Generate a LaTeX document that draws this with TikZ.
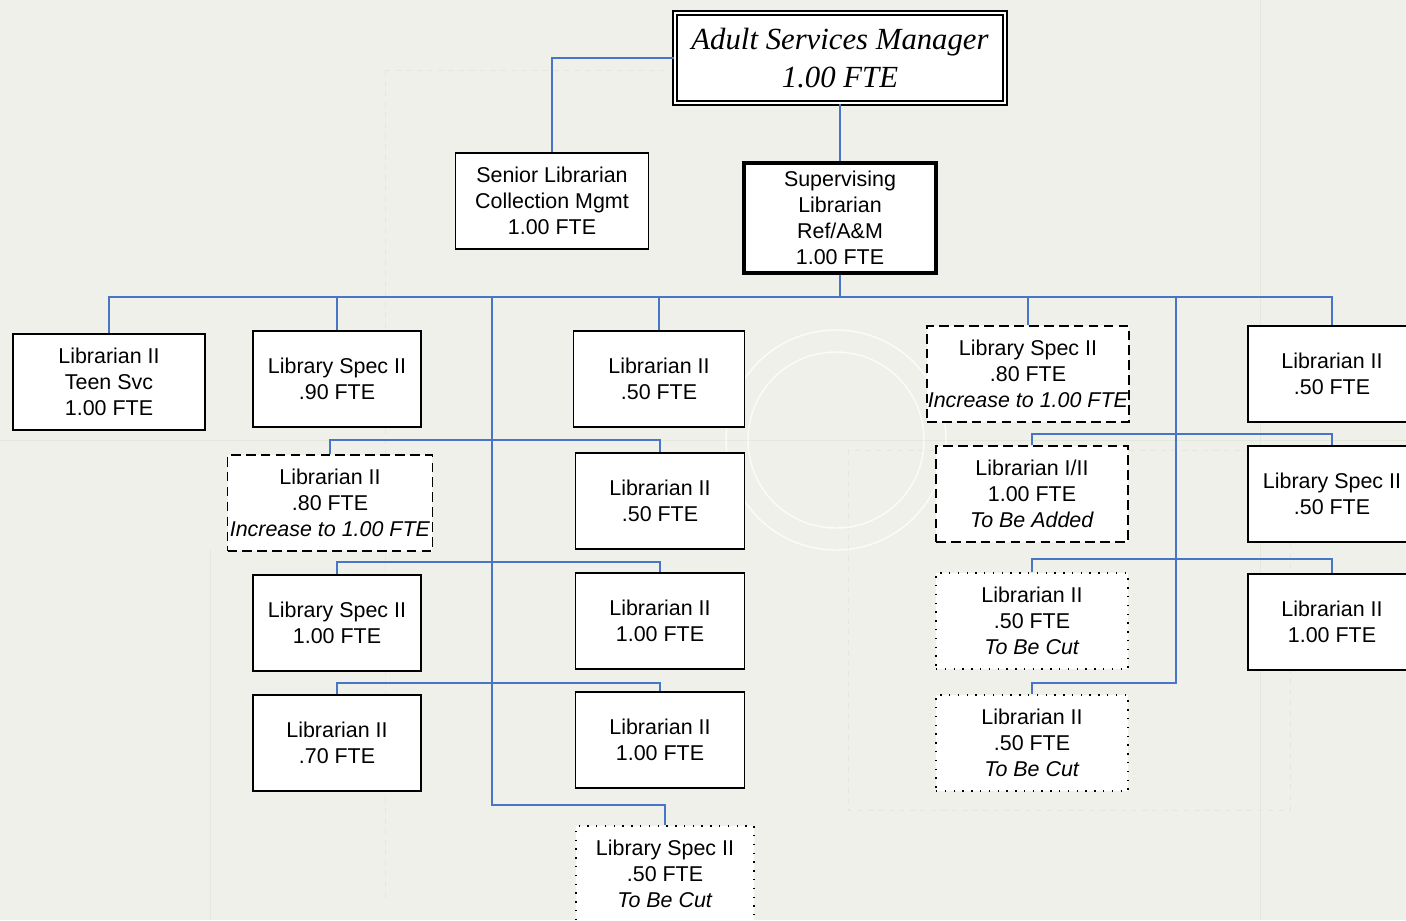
\documentclass[tikz,border=0pt]{standalone}
\usepackage{fontspec}
\setmainfont{Liberation Sans}
\newfontfamily\mgrfont{Liberation Serif}
\usetikzlibrary{positioning}
\definecolor{bgpaper}{RGB}{238,240,233}
\definecolor{bgline}{RGB}{226,232,220}
\definecolor{linkblue}{RGB}{72,118,196}

\begin{document}
\begin{tikzpicture}[x=0.02cm, y=-0.02cm,
  font=\fontsize{12.2}{14.7}\selectfont,
  post/.style={draw, line width=1pt, fill=white, align=center, inner sep=0pt, minimum height=1.92cm},
  planned/.style={post, dash pattern=on 5.5pt off 3pt},
  tobecut/.style={post, line width=0.8pt, dash pattern=on 0.8pt off 4.2pt},
  link/.style={linkblue, line width=1.1pt}]
% Paper and faint backdrop
\clip (0,0) rectangle (1406,920);
\fill[bgpaper] (0,0) rectangle (1406,920);
\draw[bgline, dashed] (385,70) -- (670,70) (385,70) -- (385,900);
\draw[bgline, dashed] (848,450) rectangle (1290,810);
\draw[bgline] (0,440) -- (1406,440) (210,550) -- (210,920) (1260,0) -- (1260,920);
\draw[white, line width=0.8pt, opacity=0.8] (836,440) circle (88) (836,440) circle (110);
% Manager and direct reports
\node[post, double, double distance=1.6pt, minimum width=6.6cm, minimum height=1.8cm,
  font=\mgrfont\itshape\fontsize{17.5}{22}\selectfont] (mgr) at (840,58) {Adult Services Manager\\1.00 FTE};
\node[post, minimum width=3.86cm] (senior) at (552,201) {Senior Librarian\\Collection Mgmt\\1.00 FTE};
\node[post, line width=1.8pt, minimum width=3.84cm, minimum height=2.2cm] (sup) at (840,218) {Supervising\\Librarian\\Ref/A\&M\\1.00 FTE};
% Row under the bus
\node[post, minimum width=3.84cm] (teen) at (109,382) {Librarian II\\Teen Svc\\1.00 FTE};
\node[post, minimum width=3.36cm] (spec90) at (337,379) {Library Spec II\\.90 FTE};
\node[post, minimum width=3.42cm] (lib50a) at (659,379) {Librarian II\\.50 FTE};
\node[planned, minimum width=4.04cm] (spec80) at (1028,374) {Library Spec II\\.80 FTE\\\textit{Increase to 1.00 FTE}};
\node[post, minimum width=3.36cm] (lib50b) at (1332,374) {Librarian II\\.50 FTE};
% Left group
\node[planned, minimum width=4.1cm] (lib80) at (330,503) {Librarian II\\.80 FTE\\\textit{Increase to 1.00 FTE}};
\node[post, minimum width=3.38cm] (lib50c) at (660,501) {Librarian II\\.50 FTE};
\node[post, minimum width=3.36cm] (spec100) at (337,623) {Library Spec II\\1.00 FTE};
\node[post, minimum width=3.38cm] (lib100a) at (660,621) {Librarian II\\1.00 FTE};
\node[post, minimum width=3.36cm] (lib70) at (337,743) {Librarian II\\.70 FTE};
\node[post, minimum width=3.38cm] (lib100b) at (660,740) {Librarian II\\1.00 FTE};
\node[tobecut, minimum width=3.56cm] (spec50cut) at (665,874) {Library Spec II\\.50 FTE\\\textit{To Be Cut}};
% Right group
\node[planned, minimum width=3.84cm] (libadd) at (1032,494) {Librarian I/II\\1.00 FTE\\\textit{To Be Added}};
\node[post, minimum width=3.36cm] (spec50) at (1332,494) {Library Spec II\\.50 FTE};
\node[tobecut, minimum width=3.84cm] (lib50cut1) at (1032,621) {Librarian II\\.50 FTE\\\textit{To Be Cut}};
\node[post, minimum width=3.36cm] (lib100c) at (1332,622) {Librarian II\\1.00 FTE};
\node[tobecut, minimum width=3.84cm] (lib50cut2) at (1032,743) {Librarian II\\.50 FTE\\\textit{To Be Cut}};
% Connectors
\draw[link] (mgr.west) -| (senior.north);
\draw[link] (mgr.south) -- (sup.north);
\coordinate (bus) at (840,297);
\draw[link] (sup.south) -- (bus);
\foreach \n in {teen,spec90,lib50a,spec80,lib50b}
  \draw[link] (bus) -| (\n.north);
% Left trunk
\coordinate (ltop) at (492,297);
\coordinate (lend) at (492,805);
\coordinate (lj1) at (492,440);
\coordinate (lj2) at (492,562);
\coordinate (lj3) at (492,683);
\draw[link] (ltop) -- (lend) -| (spec50cut.north);
\foreach \j/\a/\b in {lj1/lib80/lib50c, lj2/spec100/lib100a, lj3/lib70/lib100b}
  \draw[link] (\a.north) |- (\j) -| (\b.north);
% Right trunk
\coordinate (rtop) at (1176,297);
\coordinate (rend) at (1176,683);
\coordinate (rj1) at (1176,434);
\coordinate (rj2) at (1176,559);
\draw[link] (rtop) -- (rend) -| (lib50cut2.north);
\foreach \j/\a/\b in {rj1/libadd/spec50, rj2/lib50cut1/lib100c}
  \draw[link] (\a.north) |- (\j) -| (\b.north);
\end{tikzpicture}
\end{document}
